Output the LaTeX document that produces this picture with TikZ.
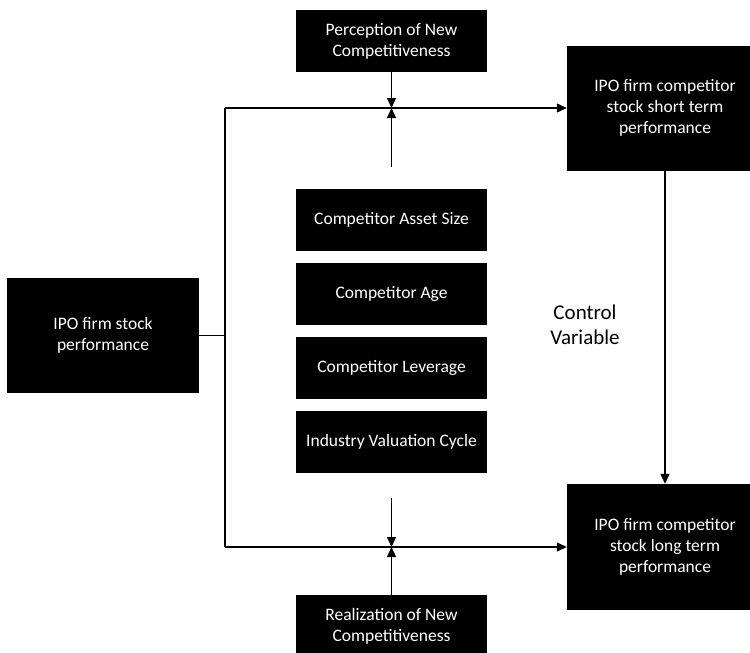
\documentclass[tikz,border=0pt]{standalone}
\usepackage{fontspec}
\setmainfont{Carlito}
\usetikzlibrary{arrows.meta}

\tikzset{
  blkbox/.style={fill=black,text=white,align=center,inner sep=0pt,
    font=\fontsize{17.5}{21}\selectfont},
  link/.style={line width=1.2pt},
  tip/.style={link,-{Triangle[length=10pt,width=9pt]}}
}

\begin{document}
\begin{tikzpicture}[x=1pt,y=-1pt]
   \useasboundingbox (0,0) rectangle (750,653);

   \node[blkbox,minimum width=192pt,minimum height=115pt] (ipo) at (103,335.5)
      {IPO firm stock\\performance};
   \node[blkbox,minimum width=191pt,minimum height=62pt] (perc) at (391.5,41)
      {Perception of New\\Competitiveness};
   \node[blkbox,minimum width=191pt,minimum height=62pt] (real) at (391.5,626)
      {Realization of New\\Competitiveness};
   \node[blkbox,minimum width=196pt,minimum height=125pt] (short) at (665,108)
      {IPO firm competitor\\stock short term\\performance};
   \node[blkbox,minimum width=196pt,minimum height=126pt] (long) at (665,547)
      {IPO firm competitor\\stock long term\\performance};

   \foreach \y/\name/\txt in {220/asset/Competitor Asset Size,
                              294/age/Competitor Age,
                              367.5/lev/Competitor Leverage,
                              442/cycle/Industry Valuation Cycle}
   {
      \node[blkbox,minimum width=191pt,minimum height=62pt] (\name) at (391.5,\y) {\txt};
   }

   \node[align=center,font=\fontsize{21}{25}\selectfont] (ctrl) at (585,325)
      {Control\\Variable};

   \path (225,108) coordinate (TL);
   \path (225,547) coordinate (BL);
   \path (391.5,108) coordinate (T);
   \path (391.5,547) coordinate (B);
   \path (391.5,167) coordinate (Tup);
   \path (391.5,498) coordinate (Bdn);

   \draw[link] (ipo.east) -- (ipo.east -| TL);
   \draw[link] (TL) -- (BL);
   \draw[tip] (TL) -- (short.west);
   \draw[tip] (BL) -- (long.west);
   \draw[tip] (perc) -- (T);
   \draw[tip] (Tup) -- (T);
   \draw[tip] (Bdn) -- (B);
   \draw[tip] (real) -- (B);
   \draw[tip] (short) -- (long);
\end{tikzpicture}
\end{document}
